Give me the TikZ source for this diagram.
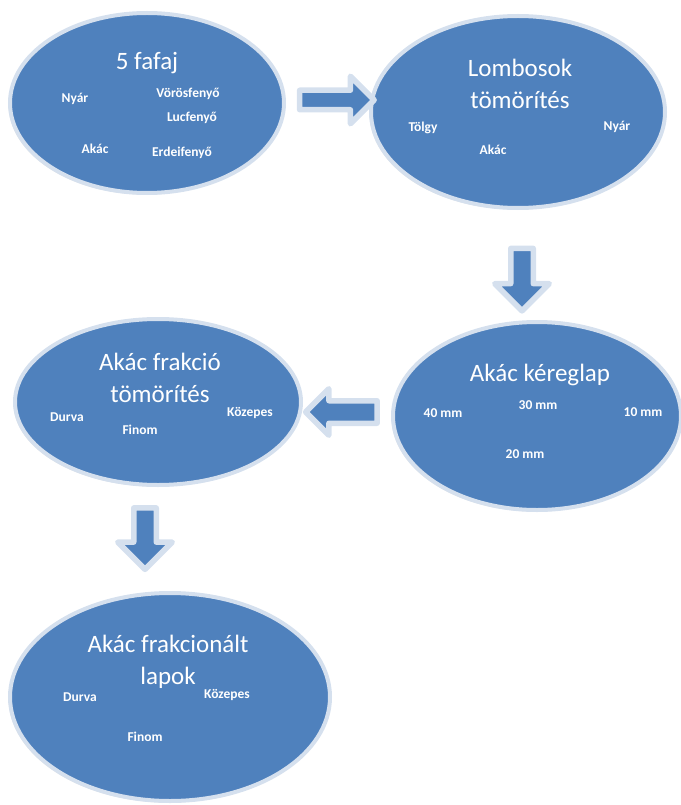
\documentclass[tikz,border=0pt]{standalone}
\usepackage{fontspec}
\setmainfont{Carlito}
\usepackage{tikz}
\usetikzlibrary{shapes.geometric,shapes.arrows,shadows}
\definecolor{fakek}{HTML}{4F81BD}
\definecolor{faret}{HTML}{D5E0EE}
\definecolor{faarny}{HTML}{9A9A9A}

\tikzset{
  folt/.style={ellipse, fill=fakek, draw=faret, line width=4pt, inner sep=0pt,
    drop shadow={opacity=0.25, fill=faarny, shadow xshift=-1.5pt, shadow yshift=-1.5pt}},
  nyil/.style={single arrow, fill=fakek, draw=faret, line width=5.5pt, line join=round,
    single arrow head indent=0pt,
    drop shadow={opacity=0.2, fill=faarny, shadow xshift=-1pt, shadow yshift=-1pt}},
  cim/.style={text=white, font=\fontsize{25}{32}\selectfont, align=center},
  fajta/.style={text=white, font=\fontsize{13.5}{16}\selectfont\bfseries}
}

\begin{document}
\begin{tikzpicture}[x=1pt, y=-1pt]
  \useasboundingbox (0,0) rectangle (680,805);
  % ellipszisek
  \node[folt, minimum width=274pt, minimum height=180pt] (fafaj) at (147,103) {};
  \node[folt, minimum width=294pt, minimum height=192pt] (lombos) at (518,112) {};
  \node[folt, minimum width=288pt, minimum height=188pt] (kereg) at (537,416) {};
  \node[folt, minimum width=286pt, minimum height=166pt] (frakcio) at (158,402) {};
  \node[folt, minimum width=320pt, minimum height=208pt] (lapok) at (170,697) {};
  % nyilak
  \node[nyil, minimum height=74.5pt, inner sep=7pt, single arrow head extend=14pt,
    shape border rotate=0] (ny1) at (332,100) {};
  \node[nyil, minimum height=62.5pt, inner sep=8.5pt, single arrow head extend=16pt,
    shape border rotate=270] (ny2) at (522,274) {};
  \node[nyil, minimum height=71.5pt, inner sep=8.5pt, single arrow head extend=12pt,
    shape border rotate=180] (ny3) at (347,412) {};
  \node[nyil, minimum height=61.5pt, inner sep=8.5pt, single arrow head extend=16pt,
    shape border rotate=270] (ny4) at (145,533) {};
  % 5 fafaj
  \node[cim] (fafajcim) at (147,63) {5 fafaj};
  \node[fajta] (nyar1) at (75,99) {Nyár};
  \node[fajta] (voros) at (188,94) {Vörösfenyő};
  \node[fajta] (luc) at (192,118) {Lucfenyő};
  \node[fajta] (akac1) at (95,149) {Akác};
  \node[fajta] (erdei) at (182,153) {Erdeifenyő};
  % lombosok
  \node[cim] (lomboscim) at (520,84) {Lombosok\\tömörítés};
  \node[fajta] (tolgy) at (423,128) {Tölgy};
  \node[fajta] (akac2) at (493,150) {Akác};
  \node[fajta] (nyar2) at (617,127) {Nyár};
  % kereglap
  \node[cim] (keregcim) at (540,375) {Akác kéreglap};
  \node[fajta] (mm40) at (443,413) {40 mm};
  \node[fajta] (mm30) at (538,405) {30 mm};
  \node[fajta] (mm10) at (643,412) {10 mm};
  \node[fajta] (mm20) at (525,454) {20 mm};
  % frakcio tomorites
  \node[cim] (frakciocim) at (160,378) {Akác frakció\\tömörítés};
  \node[fajta] (durva1) at (67,417) {Durva};
  \node[fajta] (finom1) at (140,430) {Finom};
  \node[fajta] (kozep1) at (250,413) {Közepes};
  % frakcionalt lapok
  \node[cim] (lapokcim) at (168,662) {Akác frakcionált\\lapok};
  \node[fajta] (durva2) at (80,697) {Durva};
  \node[fajta] (kozep2) at (227,695) {Közepes};
  \node[fajta] (finom2) at (145,737) {Finom};
\end{tikzpicture}
\end{document}
